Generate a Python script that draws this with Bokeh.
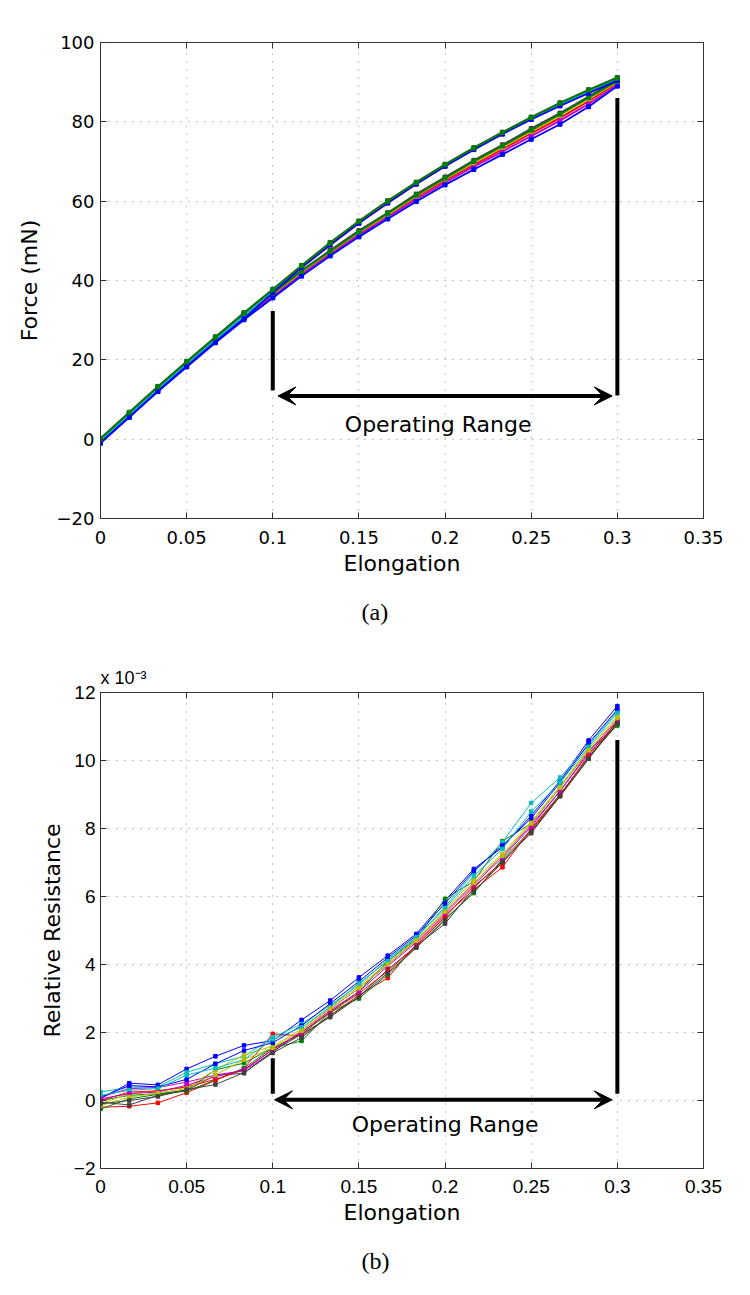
from bokeh.plotting import figure
from bokeh.models import (LinearAxis, FixedTicker, Label, Arrow, VeeHead, Range1d, Title,
                          CustomLabelingPolicy)
from bokeh.layouts import column
from bokeh.embed import file_html
from bokeh.resources import INLINE

# ---------------- data ----------------
elongation = [0, 0.0167, 0.0333, 0.05, 0.0667, 0.0833, 0.1, 0.1167, 0.1333, 0.15,
              0.1667, 0.1833, 0.2, 0.2167, 0.2333, 0.25, 0.2667, 0.2833, 0.3]

# (a) force curves, mN  -- upper bundle
force_k1 = [0.2, 6.8, 13.3, 19.6, 25.8, 31.9, 37.8, 43.8, 49.6, 55.0, 60.1, 64.8, 69.3, 73.5, 77.4, 81.2, 84.8, 88.1, 91.2]
force_g1 = [0.1, 6.7, 13.2, 19.5, 25.7, 31.8, 37.7, 43.7, 49.4, 54.9, 60.0, 64.7, 69.2, 73.4, 77.3, 81.1, 84.7, 88.0, 91.0]
force_b1 = [-0.9, 5.6, 12.1, 18.4, 24.6, 30.4, 36.9, 43.3, 49.0, 54.5, 59.6, 64.3, 68.8, 73.0, 76.9, 80.6, 84.0, 87.2, 90.4]
force_c1 = [-0.4, 6.1, 12.6, 18.9, 25.1, 31.1, 37.2, 43.4, 49.2, 54.7, 59.8, 64.5, 69.0, 73.2, 77.1, 80.9, 84.4, 87.7, 90.8]
force_m1 = [-0.2, 6.3, 12.8, 19.1, 25.3, 31.3, 37.3, 43.2, 48.9, 54.4, 59.5, 64.3, 68.8, 73.1, 77.0, 80.8, 84.3, 87.5, 90.6]
# lower bundle
force_r2 = [-0.3, 6.2, 12.7, 19.0, 25.0, 30.9, 36.4, 41.9, 47.0, 51.9, 56.4, 61.0, 65.2, 69.2, 73.1, 77.1, 81.0, 85.2, 89.8]
force_m2 = [-0.5, 6.0, 12.5, 18.7, 24.8, 30.6, 36.0, 41.5, 46.6, 51.5, 56.0, 60.5, 64.7, 68.7, 72.5, 76.4, 80.3, 84.5, 89.3]
force_y2 = [-0.2, 6.3, 12.8, 19.1, 25.2, 31.1, 36.6, 42.1, 47.2, 52.1, 56.6, 61.3, 65.6, 69.7, 73.6, 77.6, 81.6, 85.8, 90.0]
force_k2 = [0.0, 6.5, 13.0, 19.3, 25.4, 31.4, 36.9, 42.5, 47.6, 52.6, 57.1, 61.8, 66.1, 70.3, 74.2, 78.3, 82.2, 86.4, 90.6]
force_b2 = [-1.0, 5.5, 12.0, 18.2, 24.3, 30.1, 35.6, 41.1, 46.2, 51.0, 55.5, 59.9, 64.1, 68.0, 71.8, 75.6, 79.4, 83.8, 89.0]
force_g2 = [-0.1, 6.4, 12.9, 19.2, 25.3, 31.2, 36.8, 42.3, 47.4, 52.3, 56.9, 61.5, 65.8, 70.0, 73.9, 77.9, 81.9, 86.1, 90.3]

# (b) relative resistance, in units of 1e-3
res_b1 = [0.05, 0.51, 0.46, 0.93, 1.30, 1.62, 1.76, 2.37, 2.94, 3.62, 4.26, 4.90, 5.88, 6.81, 7.45, 8.38, 9.40, 10.59, 11.60]
res_g1 = [0.00, 0.15, 0.20, 0.30, 0.90, 1.10, 1.55, 1.95, 2.60, 3.20, 4.10, 4.75, 5.93, 6.45, 7.63, 8.15, 9.20, 10.30, 11.03]
res_r1 = [-0.20, -0.17, -0.07, 0.23, 0.59, 0.95, 1.96, 1.90, 2.50, 3.10, 3.60, 4.60, 5.45, 6.20, 6.86, 8.00, 9.00, 10.10, 11.10]
res_c1 = [0.25, 0.39, 0.40, 0.83, 1.08, 1.30, 1.86, 2.25, 2.80, 3.40, 4.15, 4.80, 5.70, 6.70, 7.60, 8.75, 9.50, 10.45, 11.45]
res_m1 = [0.10, 0.35, 0.38, 0.54, 0.75, 0.88, 1.42, 2.05, 2.70, 3.30, 4.00, 4.70, 5.55, 6.40, 7.20, 8.10, 9.10, 10.20, 11.13]
res_y1 = [-0.10, 0.20, 0.30, 0.38, 0.90, 1.34, 1.60, 2.10, 2.75, 3.35, 4.05, 4.72, 5.60, 6.50, 7.25, 8.20, 9.25, 10.35, 11.30]
res_k1 = [-0.05, -0.13, 0.15, 0.30, 0.74, 0.80, 1.45, 1.95, 2.45, 3.05, 3.85, 4.55, 5.20, 6.25, 7.05, 7.86, 8.95, 10.05, 11.18]
res_b2 = [0.10, 0.44, 0.40, 0.62, 1.08, 1.47, 1.70, 2.20, 2.85, 3.50, 4.20, 4.85, 5.80, 6.75, 7.50, 8.30, 9.35, 10.50, 11.50]
res_g2 = [-0.25, 0.05, 0.18, 0.28, 0.60, 0.95, 1.55, 1.75, 2.60, 3.00, 3.70, 4.50, 5.35, 6.10, 7.10, 7.95, 9.00, 10.10, 11.05]
res_r2 = [0.00, 0.25, 0.28, 0.40, 0.62, 0.90, 1.50, 2.00, 2.60, 3.15, 3.80, 4.55, 5.40, 6.30, 7.00, 7.95, 8.97, 10.15, 11.15]
res_c2 = [0.15, 0.30, 0.35, 0.75, 0.95, 1.20, 1.80, 2.15, 2.75, 3.45, 4.10, 4.80, 5.65, 6.60, 7.40, 8.50, 9.35, 10.40, 11.40]
res_m2 = [0.05, 0.20, 0.25, 0.45, 0.70, 0.90, 1.50, 2.00, 2.65, 3.20, 3.95, 4.65, 5.50, 6.35, 7.15, 8.05, 9.10, 10.25, 11.20]
res_y2 = [-0.15, 0.10, 0.22, 0.35, 0.75, 1.20, 1.55, 2.05, 2.70, 3.30, 4.00, 4.70, 5.55, 6.40, 7.20, 8.15, 9.20, 10.30, 11.25]
res_k2 = [-0.10, 0.00, 0.12, 0.32, 0.47, 0.82, 1.40, 1.85, 2.50, 3.05, 3.75, 4.50, 5.30, 6.15, 7.00, 7.90, 8.95, 10.05, 11.10]

x_ticks = [0, 0.05, 0.1, 0.15, 0.2, 0.25, 0.3, 0.35]
x_tick_labels = ["0", "0.05", "0.1", "0.15", "0.2", "0.25", "0.3", "0.35"]
force_ticks = [-20, 0, 20, 40, 60, 80, 100]
force_tick_labels = ["\u221220", "0", "20", "40", "60", "80", "100"]
res_ticks = [-2, 0, 2, 4, 6, 8, 10, 12]
res_tick_labels = ["\u22122", "0", "2", "4", "6", "8", "10", "12"]

# operating range annotation (elongation) and bar extents
range_start, range_end = 0.1, 0.3
force_bar_left = (12.3, 32.3)
force_bar_right = (11.0, 86.0)
force_arrow_y = 10.9
res_bar_left = (0.2, 1.24)
res_bar_right = (0.2, 10.6)
res_arrow_y = 0.02

C = {"b": "#0000ff", "g": "#008000", "r": "#ff0000", "c": "#00bfbf",
     "m": "#bf00bf", "y": "#bfbf00", "k": "#404040"}

force_series = [(force_r2, "r"), (force_m2, "m"), (force_y2, "y"), (force_b2, "b"), (force_k2, "k"),
                (force_g2, "g"),
                (force_m1, "m"), (force_c1, "c"), (force_b1, "b"), (force_k1, "k"), (force_g1, "g")]
res_series = [(res_b1, "b"), (res_g1, "g"), (res_r1, "r"), (res_c1, "c"), (res_m1, "m"), (res_y1, "y"),
              (res_k1, "k"), (res_b2, "b"), (res_g2, "g"), (res_r2, "r"), (res_c2, "c"), (res_m2, "m"),
              (res_y2, "y"), (res_k2, "k")]

AX = "#333333"
GRID = "#8c8c8c"


def style(p, yt, yl, tick_font, tick_size, ylab, ylab_standoff, ylab_tick_standoff, x_tick_standoff):
    p.xaxis.ticker = FixedTicker(ticks=x_ticks)
    p.xaxis.major_label_overrides = dict(zip(x_ticks, x_tick_labels))
    p.yaxis.ticker = FixedTicker(ticks=yt)
    p.yaxis.major_label_overrides = dict(zip(yt, yl))
    for ax in p.xaxis + p.yaxis:
        ax.major_tick_in = 6
        ax.major_tick_out = 0
        ax.minor_tick_line_color = None
        ax.axis_line_color = AX
        ax.major_tick_line_color = AX
        ax.major_label_text_font = tick_font
        ax.major_label_text_font_size = tick_size
        ax.major_label_text_color = "black"
        ax.axis_label_text_font = "DejaVu Sans"
        ax.axis_label_text_font_size = "22px"
        ax.axis_label_text_font_style = "normal"
        ax.axis_label_text_color = "black"
    p.xaxis.axis_label = "Elongation"
    p.xaxis.major_label_standoff = x_tick_standoff
    p.xaxis.axis_label_standoff = 4
    p.yaxis.axis_label = ylab
    p.yaxis.major_label_standoff = ylab_tick_standoff
    p.yaxis.axis_label_standoff = ylab_standoff
    # box axes (top/right) with inward ticks and no labels
    for loc, t in (("right", yt), ("above", x_ticks)):
        ax = LinearAxis(ticker=FixedTicker(ticks=t), major_tick_in=6, major_tick_out=0,
                        minor_tick_line_color=None, axis_line_color=AX, major_tick_line_color=AX,
                        major_label_policy=CustomLabelingPolicy(code="return []"),
                        major_label_standoff=0)
        p.add_layout(ax, loc)
    p.xgrid.ticker = FixedTicker(ticks=x_ticks)
    p.ygrid.ticker = FixedTicker(ticks=yt)
    for g in (p.xgrid, p.ygrid):
        g.grid_line_color = GRID
        g.grid_line_dash = "1 7"
        g.grid_line_width = 1
    p.outline_line_color = AX
    p.background_fill_color = "white"
    p.border_fill_color = "white"


# ---------------- (a) ----------------
p1 = figure(width=742, height=644, x_range=Range1d(0, 0.35), y_range=Range1d(-20, 100),
            output_backend="svg", toolbar_location=None,
            min_border_left=100, min_border_right=39, min_border_top=42, min_border_bottom=126)
style(p1, force_ticks, force_tick_labels, "DejaVu Sans", "18px", "Force (mN)", 12, 6, 12)
for ys, c in force_series:
    p1.line(elongation, ys, line_color=C[c], line_width=1.8)
    p1.scatter(elongation, ys, marker="square", size=4, color=C[c])

p1.segment(x0=[range_start, range_end], y0=[force_bar_left[0], force_bar_right[0]],
           x1=[range_start, range_end], y1=[force_bar_left[1], force_bar_right[1]],
           line_color="black", line_width=4)
p1.add_layout(Arrow(start=VeeHead(size=18, fill_color="black", line_color="black"),
                    end=VeeHead(size=18, fill_color="black", line_color="black"),
                    x_start=range_start + 0.003, y_start=force_arrow_y,
                    x_end=range_end - 0.003, y_end=force_arrow_y,
                    line_width=4, line_color="black"))
p1.add_layout(Label(x=0.196, y=3.8, text="Operating Range", text_align="center",
                    text_baseline="middle", text_font="DejaVu Sans", text_font_size="22px",
                    text_color="black"))
p1.add_layout(Title(text="(a)", align="left", offset=261, standoff=37,
                    text_font="Liberation Serif", text_font_size="24px",
                    text_font_style="normal", text_color="black"), "below")

# ---------------- (b) ----------------
p2 = figure(width=742, height=648, x_range=Range1d(0, 0.35), y_range=Range1d(-2, 12),
            output_backend="svg", toolbar_location=None,
            min_border_left=100, min_border_right=39, min_border_top=48, min_border_bottom=124)
style(p2, res_ticks, res_tick_labels, "Liberation Sans", "19px", "Relative Resistance", 6, 5, 11)
for ys, c in res_series:
    p2.line(elongation, ys, line_color=C[c], line_width=1)
    p2.scatter(elongation, ys, marker="square", size=3.5, color=C[c])

p2.segment(x0=[range_start, range_end], y0=[res_bar_left[0], res_bar_right[0]],
           x1=[range_start, range_end], y1=[res_bar_left[1], res_bar_right[1]],
           line_color="black", line_width=4)
p2.add_layout(Arrow(start=VeeHead(size=18, fill_color="black", line_color="black"),
                    end=VeeHead(size=18, fill_color="black", line_color="black"),
                    x_start=range_start + 0.001, y_start=res_arrow_y,
                    x_end=range_end - 0.003, y_end=res_arrow_y,
                    line_width=4, line_color="black"))
p2.add_layout(Label(x=0.2, y=-0.7, text="Operating Range", text_align="center",
                    text_baseline="middle", text_font="DejaVu Sans", text_font_size="22px",
                    text_color="black"))
p2.add_layout(Title(text="x 10\u207b\u00b3", align="left", standoff=-12,
                    text_font="Liberation Sans", text_font_size="18px",
                    text_font_style="normal", text_color="black"), "above")
p2.add_layout(Title(text="(b)", align="left", offset=261, standoff=36,
                    text_font="Liberation Serif", text_font_size="24px",
                    text_font_style="normal", text_color="black"), "below")

layout = column(p1, p2, spacing=0)
open("out.html", "w").write(file_html(layout, INLINE))
